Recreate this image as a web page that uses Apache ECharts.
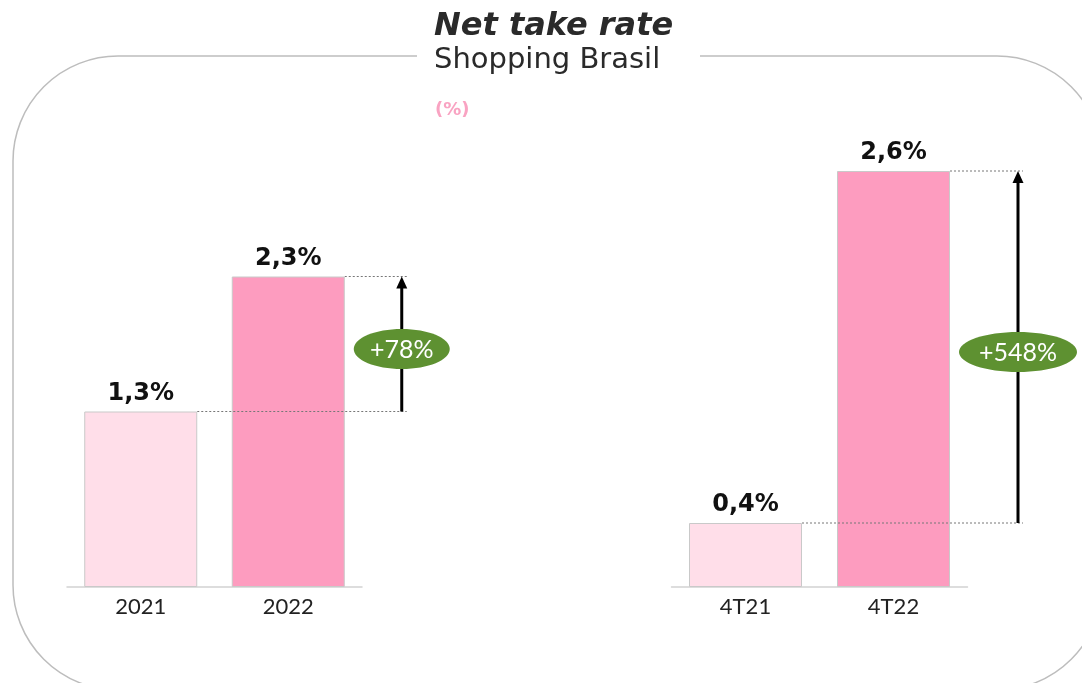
<!DOCTYPE html>
<html>
<head>
<meta charset="utf-8">
<script src="https://cdn.jsdelivr.net/npm/echarts@6/dist/echarts.min.js"></script>
<style>
  html, body { margin: 0; padding: 0; background: #fff; }
  #net_take_rate { width: 1082px; height: 683px; }
</style>
</head>
<body>
<div id="net_take_rate"></div>
<script>
var yearCategories = ['2021', '2022']
var yearValues = [1.3, 2.3]
var quarterCategories = ['4T21', '4T22']
var quarterValues = [0.4, 2.6]
var growthLabels = ['+78%', '+548%']

var colorList = ['#FFDEE9', '#FD9CBF']
var fontFamily = 'Lato, "Noto Sans", sans-serif'
var wideFont = '"DejaVu Sans", sans-serif'
var barWidth = 113

function barData(values) {
  return values.map(function(v, i) {
    return { value: v, itemStyle: { color: colorList[i] } }
  })
}

var chart = echarts.init(document.getElementById('net_take_rate'))

var axisCommon = {
  type: 'category',
  axisTick: { show: false },
  axisLine: { lineStyle: { color: '#d2d2d2', width: 1.5 } },
  axisLabel: { color: '#222', fontSize: 22, fontFamily: fontFamily, margin: 9 }
}
var valueCommon = {
  type: 'value',
  min: 0,
  max: 3,
  show: false,
  splitLine: { show: false }
}
var labelCommon = {
  show: true,
  position: 'top',
  distance: 6,
  color: '#111',
  fontSize: 24,
  fontWeight: 'bold',
  fontFamily: wideFont,
  formatter: function(p) {
    return String(p.value).replace('.', ',') + '%'
  }
}

chart.setOption({
  animation: false,
  title: [{
    text: 'Net take rate',
    subtext: 'Shopping Brasil',
    left: 434,
    top: 11,
    padding: 0,
    itemGap: 3,
    z: 10,
    textStyle: { fontSize: 32, fontWeight: 'bold', fontStyle: 'italic', color: '#2a2a2a', fontFamily: wideFont },
    subtextStyle: { fontSize: 29, color: '#2a2a2a', fontFamily: wideFont }
  }, {
    text: '(%)',
    left: 435,
    top: 101,
    padding: 0,
    textStyle: { fontSize: 18, fontWeight: 'bold', color: '#F9A3C2', fontFamily: wideFont }
  }],
  grid: [
    { left: 67, width: 295, bottom: 96, height: 405 },
    { left: 671.5, width: 296, bottom: 96, height: 480 }
  ],
  xAxis: [
    Object.assign({ gridIndex: 0, data: yearCategories }, axisCommon),
    Object.assign({ gridIndex: 1, data: quarterCategories }, axisCommon)
  ],
  yAxis: [
    Object.assign({ gridIndex: 0 }, valueCommon),
    Object.assign({ gridIndex: 1 }, valueCommon)
  ],
  series: [{
    type: 'bar',
    xAxisIndex: 0,
    yAxisIndex: 0,
    barWidth: barWidth,
    data: barData(yearValues),
    itemStyle: { borderColor: '#c9c9c9', borderWidth: 1 },
    label: labelCommon
  }, {
    type: 'bar',
    xAxisIndex: 1,
    yAxisIndex: 1,
    barWidth: barWidth,
    data: barData(quarterValues),
    itemStyle: { borderColor: '#c9c9c9', borderWidth: 1 },
    label: labelCommon
  }]
})

// anotações: linhas pontilhadas, seta e balão verde
function annotation(gi, cats, vals, arrowOff, rx, text) {
  var xLow = chart.convertToPixel({ xAxisIndex: gi }, cats[0]) + barWidth / 2
  var xHigh = chart.convertToPixel({ xAxisIndex: gi }, cats[1]) + barWidth / 2
  var yLow = chart.convertToPixel({ yAxisIndex: gi }, vals[0])
  var yHigh = chart.convertToPixel({ yAxisIndex: gi }, vals[1])
  var ax = xHigh + arrowOff
  var dash = { stroke: '#777', lineWidth: 1, lineDash: [2, 2] }
  var cy = (yLow + yHigh) / 2 + 5
  return [
    { type: 'line', z: 5, shape: { x1: xLow, y1: yLow, x2: ax + 5, y2: yLow }, style: dash },
    { type: 'line', z: 5, shape: { x1: xHigh, y1: yHigh, x2: ax + 5, y2: yHigh }, style: dash },
    { type: 'line', z: 6, shape: { x1: ax, y1: yLow, x2: ax, y2: yHigh + 10 }, style: { stroke: '#000', lineWidth: 3 } },
    { type: 'polygon', z: 6, shape: { points: [[ax, yHigh], [ax - 5.5, yHigh + 12], [ax + 5.5, yHigh + 12]] }, style: { fill: '#000' } },
    { type: 'ellipse', z: 7, shape: { cx: ax, cy: cy, rx: rx, ry: 20 }, style: { fill: '#5E9131' } },
    { type: 'text', z: 8, x: ax, y: cy + 1, style: { text: text, fill: '#fff', fontSize: 25, fontFamily: fontFamily, align: 'center', verticalAlign: 'middle' } }
  ]
}

var elements = [
  { type: 'rect', z: 0, shape: { x: 13, y: 56, width: 1089, height: 634, r: 105 }, style: { fill: 'none', stroke: '#bdbdbd', lineWidth: 1.5 } },
  { type: 'rect', z: 1, shape: { x: 417, y: 48, width: 283, height: 16 }, style: { fill: '#fff' } }
]
elements = elements
  .concat(annotation(0, yearCategories, yearValues, 57, 48, growthLabels[0]))
  .concat(annotation(1, quarterCategories, quarterValues, 68, 59, growthLabels[1]))

chart.setOption({ graphic: elements })
</script>
</body>
</html>
